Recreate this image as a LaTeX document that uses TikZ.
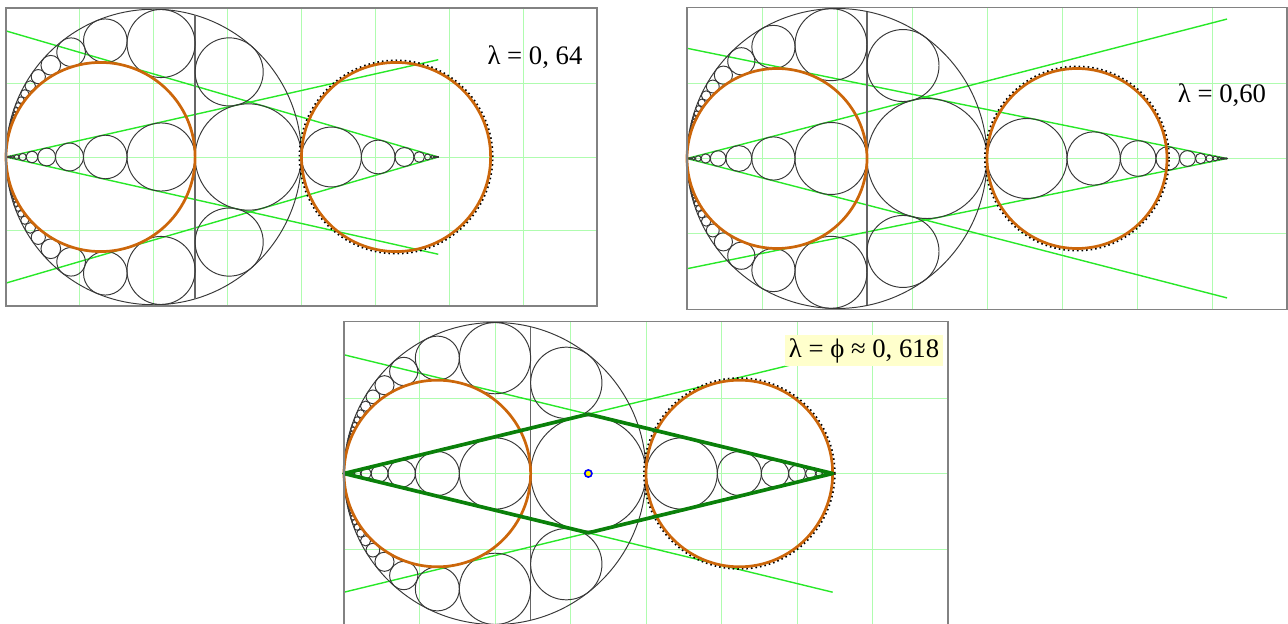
\documentclass[tikz,border=0pt]{standalone}
\usepackage{fontspec}
\setmainfont{Liberation Serif}
\definecolor{gridgreen}{RGB}{175,252,175}
\definecolor{linegreen}{RGB}{40,232,40}
\definecolor{orng}{RGB}{204,102,10}
\definecolor{darkgr}{RGB}{10,128,10}
\definecolor{labelbg}{RGB}{255,255,204}
\definecolor{framegray}{RGB}{130,130,130}
\tikzset{
  thincirc/.style={draw=black!78, line width=0.55pt},
  vline/.style={draw=black!60, line width=0.9pt},
  orangecirc/.style={draw=orng, line width=1.55pt},
  gridline/.style={draw=gridgreen, line width=0.5pt},
  tanline/.style={draw=linegreen, line width=0.8pt},
  framebox/.style={draw=framegray, line width=0.8pt},
  rhomb/.style={draw=darkgr, line width=2.1pt, line join=round},
  dotring/.style={draw=black, line width=1pt, dash pattern=on 0.9pt off 1.7pt},
  lab/.style={font=\fontsize{15.2}{18}\selectfont, inner sep=2pt},
  centerdot/.style={draw=blue, fill=yellow, line width=0.9pt},
}
\newcommand{\drawpanel}[5]{%
\pgfmathsetmacro\pu{#4*0.02}%
\begin{scope}[shift={(#2,#3)}, x=\pu cm, y=\pu cm]
\edef\lam{#1}%
\edef\om{\fpeval{1-\lam}}%
\edef\rmu{\fpeval{\om/\lam}}%
\edef\Rx{\fpeval{round(\lam+\lam*\om/(2*\lam-1),6)}}%
\edef\sa{\fpeval{\om/(1+\lam)}}%
\edef\ta{\fpeval{round(\sa/sqrt(1-\sa*\sa),6)}}%
\edef\sb{\fpeval{2*\lam-1}}%
\edef\tb{\fpeval{round(\sb/sqrt(1-\sb*\sb),6)}}%
% grid
\foreach \gx in {0.25,0.5,0.75,1,1.25,1.5,1.75} \draw[gridline] (\gx,-0.504) -- (\gx,0.504);
\foreach \gy in {-0.25,0,0.25} \draw[gridline] (0,\gy) -- (2,\gy);
% tangent lines
\edef\ya{\fpeval{round(\Rx*\ta,6)}}%
\edef\yb{\fpeval{round(\Rx*\tb,6)}}%
\coordinate (L) at (0,0);
\coordinate (R) at (\Rx,0);
\coordinate (A1) at (\Rx,\ya);
\coordinate (A2) at (\Rx,-\ya);
\coordinate (B1) at (0,\yb);
\coordinate (B2) at (0,-\yb);
\draw[tanline] (L) -- (A1);
\draw[tanline] (L) -- (A2);
\draw[tanline] (R) -- (B1);
\draw[tanline] (R) -- (B2);
% big and middle circles
\draw[thincirc] (0.5,0) circle (0.5);
\draw[thincirc] (\fpeval{(1+\lam)/2},0) circle (\fpeval{\om/2});
\edef\hh{\fpeval{round(sqrt(\lam*\om),6)}}%
\draw[vline] (\lam,-\hh) -- (\lam,\hh);
% twin circle right of the line
\edef\tw{\fpeval{round(\lam*\om/2,6)}}%
\edef\ty{\fpeval{round(\om*sqrt(\lam),6)}}%
\draw[thincirc] (\fpeval{\lam+\tw},\ty) circle (\tw);
\draw[thincirc] (\fpeval{\lam+\tw},-\ty) circle (\tw);
% Pappus chain between big and orange circle
\edef\ww{\fpeval{1/\lam-1}}%
\edef\cc{\fpeval{(1+1/\lam)/2}}%
\edef\yz{\fpeval{sqrt(\om)/\lam}}%
\foreach \k in {0,...,45}{%
  \edef\yk{\fpeval{\yz+\k*\ww}}%
  \edef\Dk{\fpeval{1/\lam+\yk*\yk}}%
  \edef\ppx{\fpeval{round(\cc/\Dk,7)}}%
  \edef\ppy{\fpeval{round(\yk/\Dk,7)}}%
  \edef\ppr{\fpeval{round(\ww/2/\Dk,7)}}%
  \draw[thincirc] (\ppx,\ppy) circle (\ppr);
  \draw[thincirc] (\ppx,-\ppy) circle (\ppr);
}
% left wedge chain
\foreach \j in {0,...,28}{%
  \edef\lj{\fpeval{\lam^(\j+1)}}%
  \draw[thincirc] (\fpeval{round(\lj*(1+\lam)/2,8)},0) circle (\fpeval{round(\lj*\om/2,8)});
}
% right wedge chain
\foreach \i in {1,...,30}{%
  \edef\dd{\fpeval{\om*\rmu^\i}}%
  \edef\ss{\fpeval{\lam+\om*(1-\rmu^\i)/(1-\rmu)}}%
  \draw[thincirc] (\fpeval{round(\ss+\dd/2,8)},0) circle (\fpeval{round(\dd/2,8)});
}
% dotted ring and orange circles
\draw[dotring] (\fpeval{1+\lam/2},0) circle (\fpeval{\lam/2+0.007});
\draw[orangecirc] (\fpeval{\lam/2},0) circle (\fpeval{\lam/2});
\draw[orangecirc] (\fpeval{1+\lam/2},0) circle (\fpeval{\lam/2});
#5
% frame
\draw[framebox] (0,-0.504) rectangle (2,0.504);
\end{scope}
}
\begin{document}
\begin{tikzpicture}[x=0.02cm, y=-0.02cm]
\useasboundingbox (0,0) rectangle (1288,624);
\drawpanel{0.64}{6}{157}{295.5}{}
\drawpanel{0.60}{687}{158.5}{300}{}
\drawpanel{0.6180339887}{344}{473.5}{302}{%
  \edef\cx{\fpeval{round(\Rx/2,6)}}%
  \edef\cy{\fpeval{round(\Rx/2*\ta,6)}}%
  \coordinate (T) at (\cx,\cy);
  \coordinate (B) at (\cx,-\cy);
  \coordinate (M) at (\cx,0);
  \draw[rhomb] (L) -- (T) -- (R) -- (B) -- cycle;
  \draw[centerdot] (M) circle (0.012);
}
\node[lab] (lab1) at (535,57) {λ = 0, 64};
\node[lab] (lab2) at (1222,95) {λ = 0,60};
\node[lab, fill=labelbg] (lab3) at (864,350.5) {λ = ϕ ≈ 0, 618};
\end{tikzpicture}
\end{document}
